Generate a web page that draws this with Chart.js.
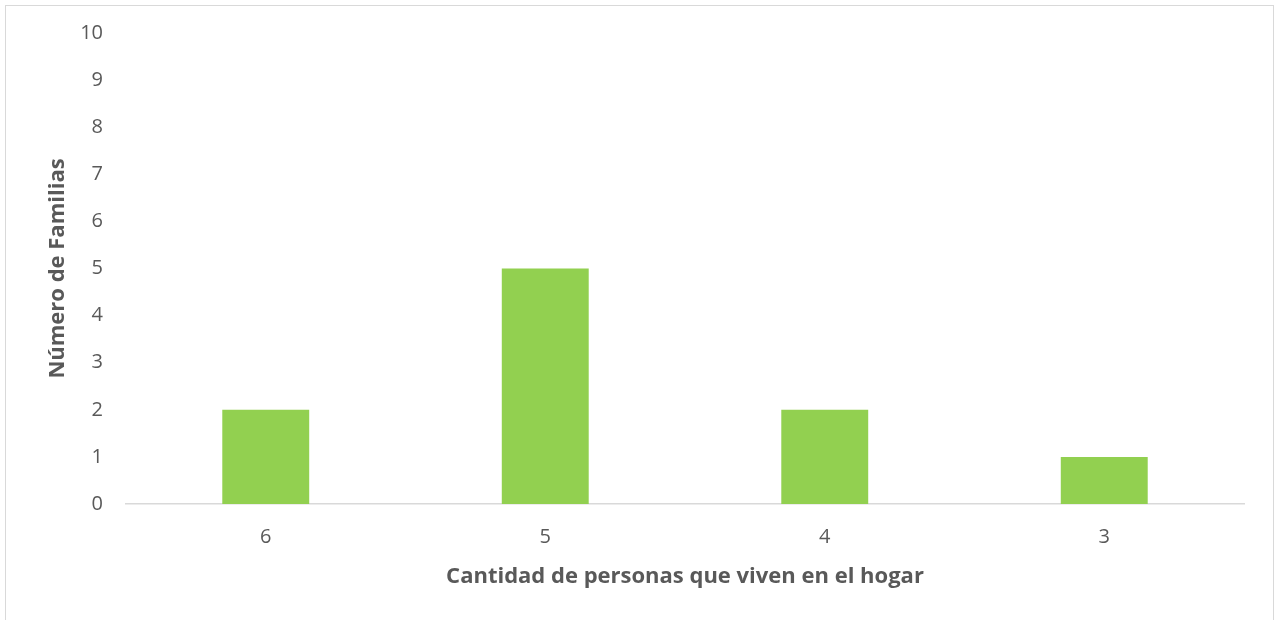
<!DOCTYPE html>
<html>
<head>
<meta charset="utf-8">
<script src="https://cdn.jsdelivr.net/npm/chart.js@4"></script>
<style>
  html, body { margin: 0; padding: 0; background: #fff; }
  #frame { position: absolute; left: 5px; top: 5px; width: 1267px; height: 640px; border: 1px solid #d9d9d9; }
  #wrap { position: absolute; left: 0; top: 0; width: 1276px; height: 620px; }
</style>
</head>
<body>
<div id="frame"></div>
<div id="wrap"><canvas id="chart" width="1276" height="620"></canvas></div>
<script>
// Datos del gráfico
const personas = ["6", "5", "4", "3"]
const familias = [2, 5, 2, 1]
const yTicks = [0, 1, 2, 3, 4, 5, 6, 7, 8, 9, 10]

const fontFam = "'Open Sans', sans-serif"
const grey = "#595959"

new Chart(document.getElementById("chart"), {
  type: "bar",
  data: {
    labels: personas,
    datasets: [
      {
        label: "Número de Familias",
        data: familias,
        backgroundColor: "#92d050",
        borderWidth: 0,
        barPercentage: 1,
        categoryPercentage: 0.311,
      },
    ],
  },
  options: {
    responsive: false,
    animation: false,
    layout: { padding: { top: 33, right: 32, bottom: 0, left: 0 } },
    plugins: {
      legend: { display: false },
      tooltip: { enabled: false },
    },
    scales: {
      x: {
        grid: { display: false },
        border: { display: true, color: "#d9d9d9", width: 1.5 },
        ticks: { color: grey, font: { family: fontFam, size: 20 }, padding: 13 },
        title: {
          display: true,
          text: "Cantidad de personas que viven en el hogar",
          color: grey,
          font: { family: fontFam, size: 22, weight: "bold" },
          padding: { top: 0, bottom: 30 },
        },
        afterFit: (scale) => { scale.height = 116 },
      },
      y: {
        min: 0,
        max: 10,
        grid: { display: false },
        border: { display: false },
        afterBuildTicks: (scale) => { scale.ticks = yTicks.map((v) => ({ value: v })) },
        ticks: { color: grey, font: { family: fontFam, size: 20 }, padding: 15 },
        title: {
          display: true,
          text: "Número de Familias",
          color: grey,
          font: { family: fontFam, size: 22, weight: "bold" },
          padding: { top: 45, bottom: 0 },
        },
        afterFit: (scale) => { scale.width = 126 },
      },
    },
  },
})
</script>
</body>
</html>
